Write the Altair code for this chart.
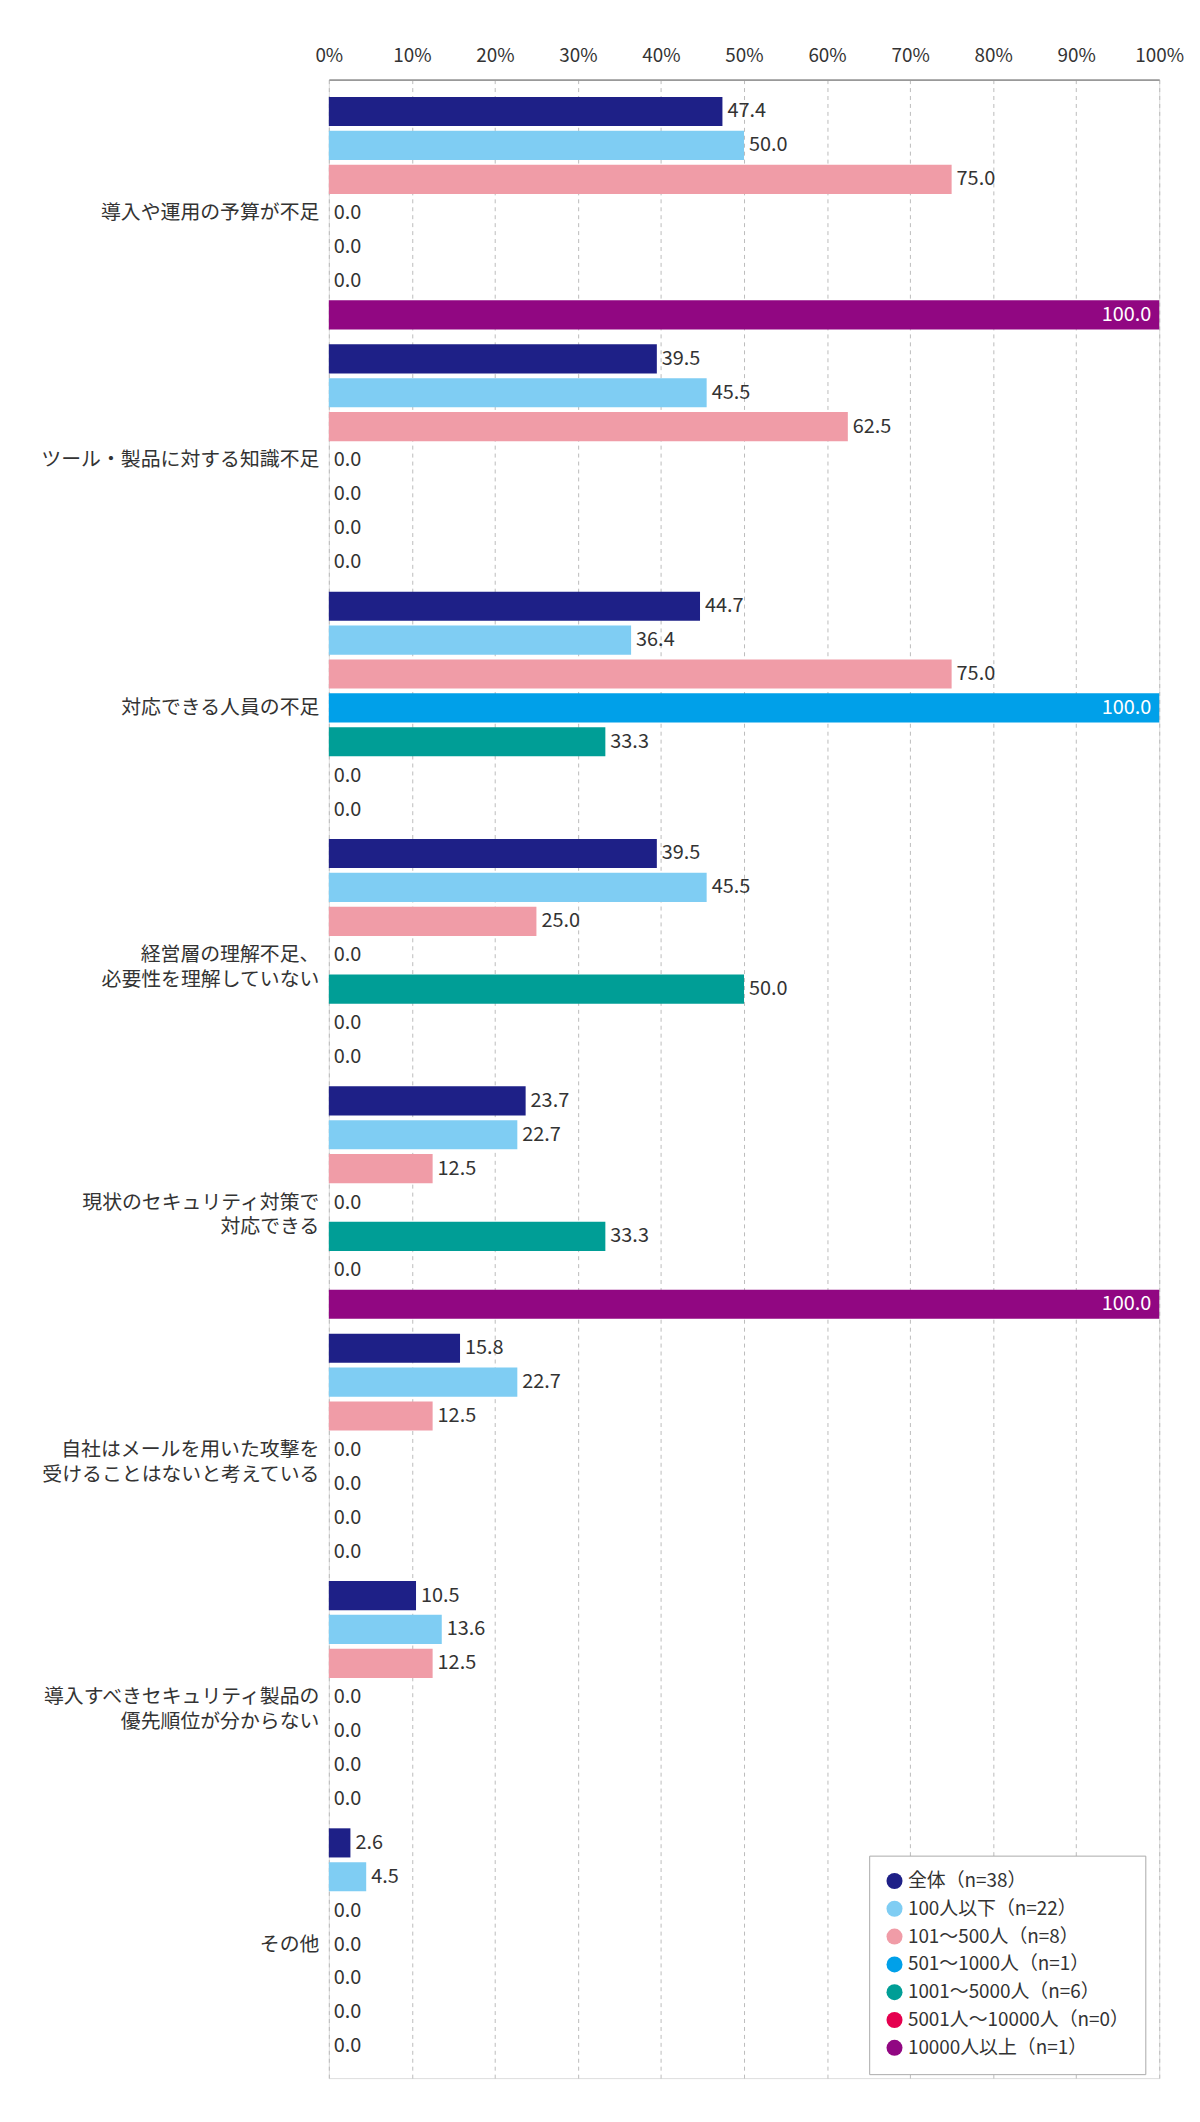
import altair as alt
import pandas as pd

categories = ["導入や運用の予算が不足", "ツール・製品に対する知識不足", "対応できる人員の不足",
              "経営層の理解不足、\n必要性を理解していない", "現状のセキュリティ対策で\n対応できる",
              "自社はメールを用いた攻撃を\n受けることはないと考えている",
              "導入すべきセキュリティ製品の\n優先順位が分からない", "その他"]
series = ["全体（n=38）", "100人以下（n=22）", "101～500人（n=8）", "501～1000人（n=1）",
          "1001～5000人（n=6）", "5001人～10000人（n=0）", "10000人以上（n=1）"]
colors = ["#1e2087", "#7fcdf3", "#f09ca7", "#00a0e9", "#009e96", "#e5004f", "#910782"]
values = [
    [47.4, 50.0, 75.0, 0.0, 0.0, 0.0, 100.0],
    [39.5, 45.5, 62.5, 0.0, 0.0, 0.0, 0.0],
    [44.7, 36.4, 75.0, 100.0, 33.3, 0.0, 0.0],
    [39.5, 45.5, 25.0, 0.0, 50.0, 0.0, 0.0],
    [23.7, 22.7, 12.5, 0.0, 33.3, 0.0, 100.0],
    [15.8, 22.7, 12.5, 0.0, 0.0, 0.0, 0.0],
    [10.5, 13.6, 12.5, 0.0, 0.0, 0.0, 0.0],
    [2.6, 4.5, 0.0, 0.0, 0.0, 0.0, 0.0],
]

rows = []
for c, vals in zip(categories, values):
    for s, v in zip(series, vals):
        rows.append({"cat": c, "series": s, "value": v, "label": f"{v:.1f}"})
df = pd.DataFrame(rows)

FONT = "Noto Sans CJK JP"
y = alt.Y("cat:N", sort=categories, title=None,
          scale=alt.Scale(paddingInner=0.06, paddingOuter=0.07),
          axis=alt.Axis(labelExpr="split(datum.label, '\\n')", labelFontSize=20, labelColor="#333",
                        labelFont=FONT, ticks=False, domain=False, labelPadding=10, labelLimit=0,
                        labelLineHeight=25))
yoff = alt.YOffset("series:N", sort=series, scale=alt.Scale(paddingInner=0.14))
x = alt.X("value:Q", scale=alt.Scale(domain=[0, 100], nice=False),
          axis=alt.Axis(orient="top", values=list(range(0, 101, 10)), labelExpr="datum.value + '%'",
                        title=None, labelFontSize=19, labelFont=FONT, labelColor="#333", ticks=False,
                        labelPadding=14, domainColor="#999", domainWidth=2, gridColor="#bbb",
                        gridDash=[4, 4], labelFlush=False))

base = alt.Chart(df).encode(y=y, yOffset=yoff)
bars = base.mark_bar().encode(
    x=x,
    color=alt.Color("series:N", sort=series, scale=alt.Scale(domain=series, range=colors),
                    legend=alt.Legend(title=None, orient="none", legendX=544, legendY=1788,
                                      symbolType="circle", symbolSize=260, symbolStrokeWidth=0,
                                      labelFontSize=19, labelFont=FONT, labelColor="#333",
                                      labelLimit=0, rowPadding=8, padding=16, strokeColor="#aaa",
                                      fillColor="white", symbolOpacity=1)))
txt_out = base.transform_filter("datum.value < 100").mark_text(
    align="left", dx=5, fontSize=20, font=FONT, color="#333").encode(x="value:Q", text="label:N")
txt_in = base.transform_filter("datum.value >= 100").mark_text(
    align="right", dx=-8, fontSize=20, font=FONT, color="white").encode(x="value:Q", text="label:N")

chart = alt.layer(bars, txt_out, txt_in).properties(
    width=836, height=2012, autosize=alt.AutoSizeParams(type="none"),
    padding={"left": 323, "top": 65, "right": 33, "bottom": 30}
).configure_view(stroke="#999", strokeWidth=1.5).configure(background="white")

chart.save("out.html", embed_options={"renderer": "svg", "actions": False})
